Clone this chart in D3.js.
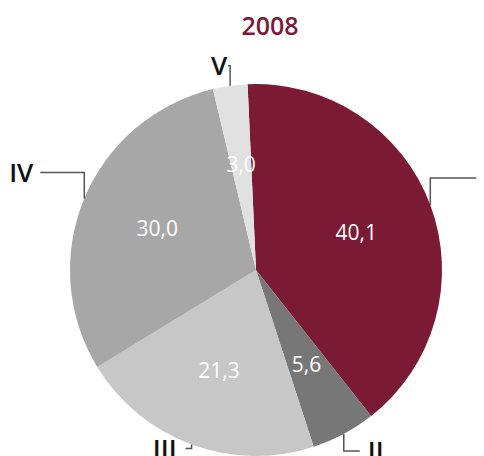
<!DOCTYPE html>
<html>
<head>
<meta charset="utf-8">
<script src="https://cdn.jsdelivr.net/npm/d3@7"></script>
<style>
  html, body { margin: 0; padding: 0; background: #fff; }
  svg { display: block; }
  text { font-family: "Open Sans", "Noto Sans", sans-serif; }
</style>
</head>
<body>
<svg id="chart" width="484" height="456"></svg>
<script>
// Share of each group in 2008 (percent)
const title = "2008";
const categories = ["I", "II", "III", "IV", "V"];
const values = [40.1, 5.6, 21.3, 30.0, 3.0];
const colors = ["#7a1a35", "#777777", "#c7c7c7", "#a7a7a7", "#e1e1e1"];

// Leader-line elbows: vertical run from the rim, horizontal run, gap before the label
const leaderRise = [-27, 17, 4, -26, -20];
const leaderRun = [46, 16, -6, -44, -2];
const labelGap = [8, 8, 9, 7, 1];

const width = 484, height = 456;
const cx = 256, cy = 270, radius = 186;

const svg = d3.select("#chart");

svg.append("text")
  .attr("x", 270)
  .attr("y", 35)
  .attr("text-anchor", "middle")
  .attr("fill", "#7c1a38")
  .attr("font-size", 25)
  .attr("font-weight", 600)
  .text(title);

const data = categories.map((c, i) => ({
  name: c, value: values[i], color: colors[i],
  rise: leaderRise[i], run: leaderRun[i], gap: labelGap[i]
}));

const startOffset = -2.6 * Math.PI / 180;
const pie = d3.pie()
  .value(d => d.value)
  .sort(null)
  .startAngle(startOffset)
  .endAngle(startOffset + 2 * Math.PI);

const arcs = pie(data);
const arc = d3.arc().innerRadius(0).outerRadius(radius);
const labelArc = d3.arc().innerRadius(107).outerRadius(107);
const rimArc = d3.arc().innerRadius(radius).outerRadius(radius);

const g = svg.append("g").attr("transform", `translate(${cx},${cy})`);

g.selectAll("path.slice")
  .data(arcs)
  .join("path")
  .attr("class", "slice")
  .attr("d", arc)
  .attr("fill", d => d.data.color);

// value labels inside the slices
g.selectAll("text.value")
  .data(arcs)
  .join("text")
  .attr("class", "value")
  .attr("transform", d => `translate(${labelArc.centroid(d)})`)
  .attr("text-anchor", "middle")
  .attr("dy", "0.36em")
  .attr("fill", "#fff")
  .attr("font-size", 21)
  .attr("font-weight", 500)
  .text(d => d3.format(".1f")(d.data.value).replace(".", ","));

// leader lines from the rim to the category names
g.selectAll("path.leader")
  .data(arcs)
  .join("path")
  .attr("class", "leader")
  .attr("fill", "none")
  .attr("stroke", "#555")
  .attr("stroke-width", 1.5)
  .attr("d", d => {
    const [x, y] = rimArc.centroid(d);
    const y2 = y + d.data.rise;
    return d3.line()([[x, y], [x, y2], [x + d.data.run, y2]]);
  });

// category names at the end of each leader (only those that fall inside the canvas)
const nameX = d => {
  const end = rimArc.centroid(d)[0] + d.data.run;
  return d.data.run >= 0 ? end + d.data.gap : end - d.data.gap;
};
g.selectAll("text.name")
  .data(arcs.filter(d => cx + nameX(d) < width))
  .join("text")
  .attr("class", "name")
  .attr("x", nameX)
  .attr("y", d => rimArc.centroid(d)[1] + d.data.rise)
  .attr("dy", "0.36em")
  .attr("text-anchor", d => d.data.run >= 0 ? "start" : "end")
  .attr("fill", "#111")
  .attr("font-size", 26)
  .attr("font-weight", 600)
  .text(d => d.data.name);
</script>
</body>
</html>
